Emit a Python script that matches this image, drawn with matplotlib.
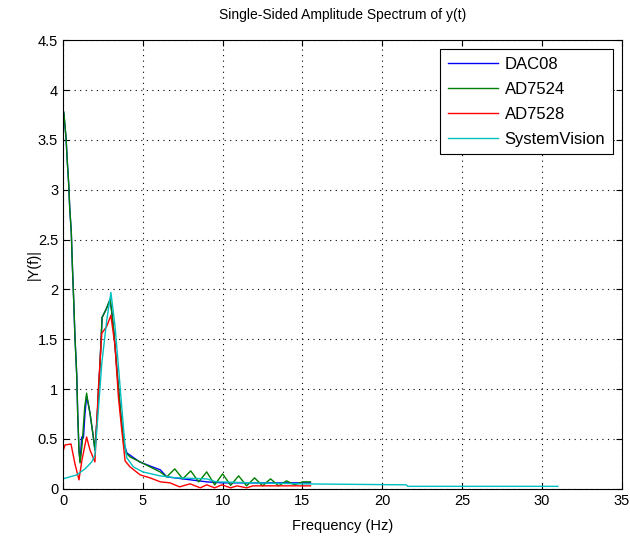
import numpy as np
import matplotlib.pyplot as plt

plt.rcParams['font.family'] = ['Liberation Sans', 'DejaVu Sans']
plt.rcParams['font.size'] = 10

# DAC08 (vertices)
f_dac08 = [0.05, 0.19, 0.27, 0.36, 0.42, 0.52, 0.58, 0.67, 0.75, 0.86, 0.92, 1.0, 1.07,
           1.17, 1.28, 1.38, 1.48, 1.55, 1.69, 1.9, 2.0, 2.15, 2.3, 2.45, 2.7, 2.95,
           3.05, 3.2, 3.4, 3.6, 3.8, 4.0, 4.8, 5.6, 6.1, 6.5, 7.0, 7.5, 8.0, 9.0,
           10.0, 12.0, 14.0, 15.5]
y_dac08 = [3.77, 3.52, 3.28, 3.05, 2.82, 2.57, 2.27, 1.89, 1.52, 1.14, 0.76, 0.39, 0.27,
           0.52, 0.51, 0.76, 0.93, 0.88, 0.76, 0.52, 0.39, 0.75, 1.2, 1.72, 1.8, 1.9,
           1.78, 1.55, 1.15, 0.78, 0.47, 0.36, 0.27, 0.22, 0.19, 0.12, 0.11, 0.10, 0.09,
           0.07, 0.06, 0.06, 0.06, 0.06]

# AD7524
f_ad7524 = [0.05, 0.19, 0.27, 0.36, 0.42, 0.52, 0.58, 0.67, 0.75, 0.86, 0.92, 1.0, 1.07,
            1.2, 1.36, 1.48, 1.55, 1.69, 1.9, 2.0, 2.15, 2.3, 2.45, 2.7, 2.95, 3.05,
            3.2, 3.4, 3.6, 3.8, 3.95, 4.2, 4.83, 5.45, 6.08, 6.5, 7.0, 7.5, 8.0, 8.5,
            9.0, 9.5, 10.0, 10.5, 11.0, 11.5, 12.0, 12.5, 13.0, 13.5, 14.0, 14.5,
            15.0, 15.5]
y_ad7524 = [3.78, 3.52, 3.28, 3.05, 2.82, 2.57, 2.27, 1.89, 1.52, 1.14, 0.76, 0.39, 0.26,
            0.45, 0.82, 0.96, 0.88, 0.76, 0.52, 0.39, 0.75, 1.2, 1.72, 1.8, 1.9, 1.78,
            1.55, 1.15, 0.78, 0.47, 0.36, 0.32, 0.27, 0.22, 0.17, 0.12, 0.20, 0.10,
            0.18, 0.07, 0.17, 0.04, 0.15, 0.035, 0.13, 0.03, 0.11, 0.03, 0.10, 0.03,
            0.08, 0.04, 0.07, 0.07]

# AD7528
f_ad7528 = [0.0, 0.13, 0.5, 0.75, 1.0, 1.2, 1.48, 1.69, 2.0, 2.2, 2.43, 2.74, 3.0,
            3.26, 3.47, 3.68, 3.89, 4.2, 4.83, 5.45, 6.1, 6.7, 7.3, 7.96, 8.6, 9.0,
            9.5, 9.95, 10.5, 10.9, 11.5, 11.9, 13.0, 14.0, 15.5]
y_ad7528 = [0.38, 0.44, 0.45, 0.25, 0.09, 0.3, 0.52, 0.39, 0.27, 0.96, 1.56, 1.63, 1.74,
            1.43, 0.92, 0.59, 0.28, 0.22, 0.14, 0.11, 0.07, 0.06, 0.02, 0.05, 0.01, 0.04,
            0.01, 0.04, 0.01, 0.03, 0.01, 0.03, 0.03, 0.03, 0.03]

# SystemVision
f_sysv = [0.0, 0.86, 1.38, 1.8, 2.0, 2.2, 2.43, 2.74, 3.0, 3.26, 3.47, 3.68, 3.89,
          4.0, 4.41, 5.0, 6.08, 7.1, 9.0, 9.6, 12.0, 14.9, 21.5, 21.6, 31.0]
y_sysv = [0.10, 0.14, 0.20, 0.27, 0.34, 0.76, 1.26, 1.69, 1.97, 1.63, 1.23, 0.82, 0.42,
          0.31, 0.22, 0.17, 0.13, 0.11, 0.10, 0.07, 0.06, 0.05, 0.04, 0.025, 0.025]

fig = plt.figure(figsize=(6.3, 5.36), dpi=100)
ax = fig.add_axes([0.1, 0.088, 0.887, 0.837])

ax.plot(f_dac08, y_dac08, color='#0000ff', linewidth=1, label='DAC08')
ax.plot(f_ad7524, y_ad7524, color='#008000', linewidth=1, label='AD7524')
ax.plot(f_ad7528, y_ad7528, color='#ff0000', linewidth=1, label='AD7528')
ax.plot(f_sysv, y_sysv, color='#00bfbf', linewidth=1, label='SystemVision')

ax.set_xlim(0, 35)
ax.set_ylim(0, 4.5)
ax.set_xticks(np.arange(0, 36, 5))
ax.set_yticks(np.arange(0, 4.6, 0.5))
ax.set_yticklabels(['0', '0.5', '1', '1.5', '2', '2.5', '3', '3.5', '4', '4.5'])
ax.tick_params(direction='in', top=True, right=True, length=4, labelsize=10.5)
ax.grid(True, color='black', linestyle=(0, (1, 4)), linewidth=0.8)

ax.set_title('Single-Sided Amplitude Spectrum of y(t)', fontsize=10, pad=15)
ax.set_xlabel('Frequency (Hz)', fontsize=10.5, labelpad=8)
ax.set_ylabel('|Y(f)|', fontsize=10.5)
ax.yaxis.set_label_coords(-0.04, 0.5)

leg = ax.legend(loc='upper right', fontsize=12, fancybox=False, framealpha=1,
                edgecolor='black', handlelength=3.0, borderaxespad=0.55,
                labelspacing=0.6, handletextpad=0.4, borderpad=0.45)
leg.get_frame().set_linewidth(0.8)

fig.savefig('out.png', dpi=100)
